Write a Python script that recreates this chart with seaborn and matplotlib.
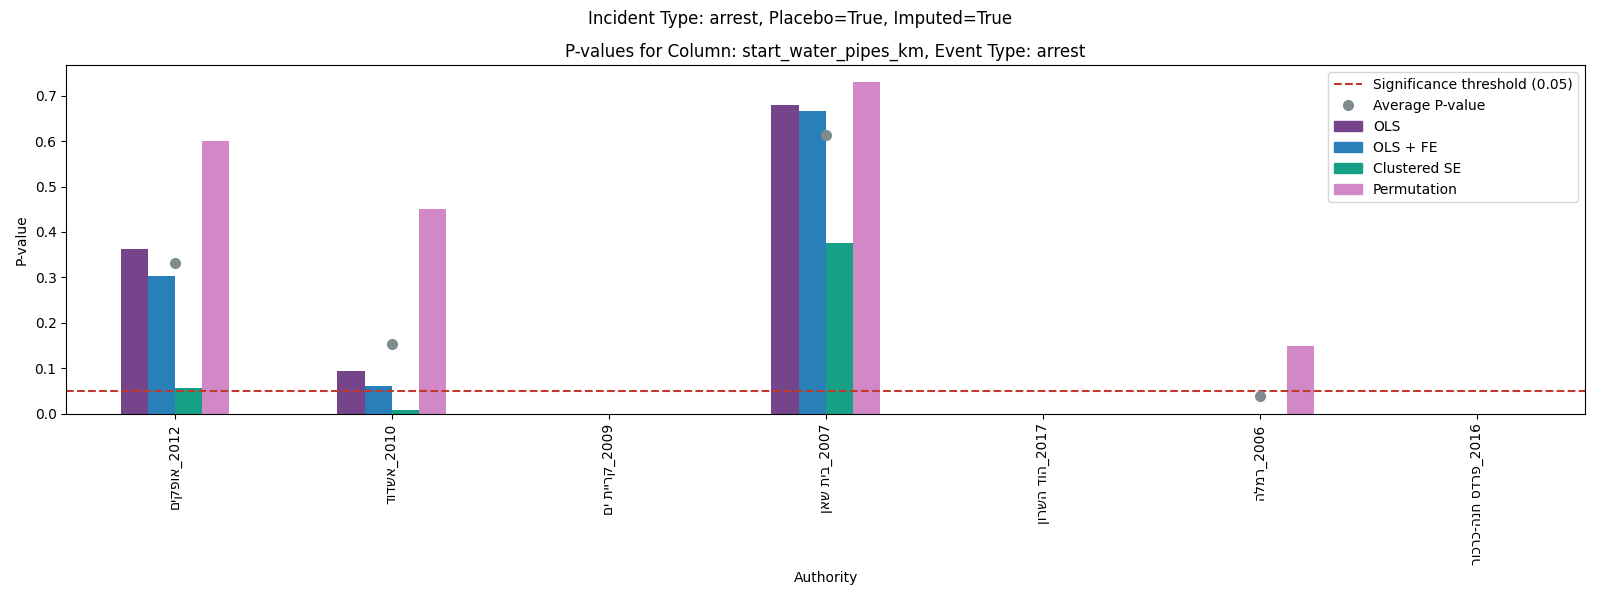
import numpy as np
import pandas as pd
import seaborn as sns
import matplotlib.pyplot as plt
from matplotlib.patches import Patch
from matplotlib.lines import Line2D

# Authorities (logical Hebrew order) and years
authorities = ['אופקים', 'אשדוד', 'קריית ים', 'בית שאן', 'הוד השרון', 'רמלה', 'פרדס חנה-כרכור']
years = [2012, 2010, 2009, 2007, 2017, 2006, 2016]

methods = ['OLS', 'OLS + FE', 'Clustered SE', 'Permutation']

# p-values per method (nan = not available)
ols = [0.362, 0.095, np.nan, 0.680, np.nan, 0.0, np.nan]
ols_fe = [0.304, 0.061, np.nan, 0.666, np.nan, 0.0, np.nan]
clustered = [0.057, 0.009, np.nan, 0.376, np.nan, 0.0, np.nan]
permutation = [0.600, 0.450, np.nan, 0.730, np.nan, 0.150, np.nan]
avg_pvalue = [0.331, 0.153, np.nan, 0.613, np.nan, 0.038, np.nan]

colors = ['#76448a', '#2980b9', '#16a085', '#d288c7']

# matplotlib has no bidi support -> reverse the hebrew part for display
labels = [name[::-1] + '_' + str(y) for name, y in zip(authorities, years)]

df = pd.DataFrame({'Authority': labels, 'OLS': ols, 'OLS + FE': ols_fe,
                   'Clustered SE': clustered, 'Permutation': permutation})
long_df = df.melt(id_vars='Authority', var_name='Method', value_name='P-value')

fig, ax = plt.subplots(figsize=(16, 6))

sns.barplot(data=long_df, x='Authority', y='P-value', hue='Method',
            order=labels, hue_order=methods, palette=colors,
            width=0.5, gap=0, saturation=1, linewidth=0,
            errorbar=None, legend=False, ax=ax)

ax.axhline(0.05, color='#c0392b', linestyle='--', linewidth=1.5)
ax.plot(range(len(labels)), avg_pvalue, 'o', color='#7f8c8d', markersize=7)

handles = [Line2D([], [], color='#c0392b', linestyle='--', linewidth=1.5),
           Line2D([], [], marker='o', linestyle='none', color='#7f8c8d', markersize=7)]
handles += [Patch(color=c) for c in colors]
ax.legend(handles, ['Significance threshold (0.05)', 'Average P-value'] + methods,
          loc='upper right')

ax.set_xlim(-0.5, len(labels) - 0.5)
ax.tick_params(axis='x', labelrotation=90)
ax.set_xlabel('Authority')
ax.set_ylabel('P-value')
ax.set_title('P-values for Column: start_water_pipes_km, Event Type: arrest')
fig.suptitle('Incident Type: arrest, Placebo=True, Imputed=True', y=0.984)

plt.tight_layout()
fig.subplots_adjust(top=0.891)
plt.savefig('out.png', dpi=100)
